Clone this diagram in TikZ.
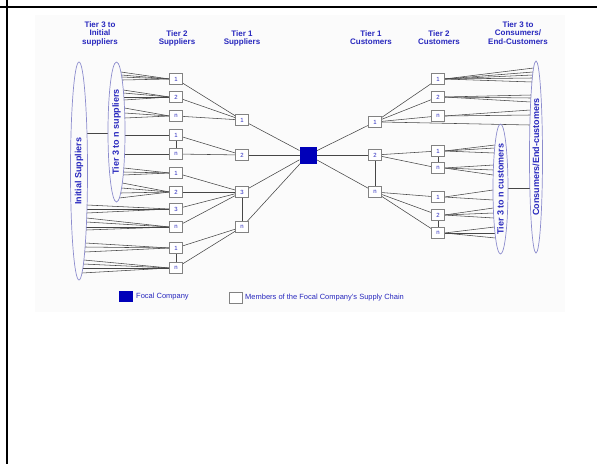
\documentclass[tikz,border=0pt]{standalone}
\usepackage{fontspec}
\setmainfont{Liberation Sans}
\usetikzlibrary{shapes.geometric}
\definecolor{txtblue}{RGB}{40,40,190}
\definecolor{focalblue}{RGB}{0,0,185}
\definecolor{ellcol}{RGB}{140,140,205}
\definecolor{lncol}{RGB}{70,70,70}
\definecolor{boxcol}{RGB}{130,130,130}
\pgfdeclarelayer{bg}
\pgfdeclarelayer{lines}
\pgfsetlayers{bg,lines,main}
\newcommand\fanR[6]{%
  \foreach \yy in {#6} {
    \pgfmathsetmacro\dd{(\yy-#2)/#4}
    \pgfmathsetmacro\xx{#1+#3*sqrt(1-(\dd)*(\dd))}
    \coordinate (fp) at (\xx,\yy);
    \draw[ln] (fp) -- (#5.west);
  }}
\newcommand\fanL[6]{%
  \foreach \yy in {#6} {
    \pgfmathsetmacro\dd{(\yy-#2)/#4}
    \pgfmathsetmacro\xx{#1-#3*sqrt(1-(\dd)*(\dd))}
    \coordinate (fp) at (\xx,\yy);
    \draw[ln] (#5.east) -- (fp);
  }}
\begin{document}
\begin{tikzpicture}[x=1pt,y=-1pt,
  mbox/.style={draw=boxcol,fill=white,line width=0.6pt,minimum width=13pt,minimum height=11pt,inner sep=0pt,outer sep=0pt,font=\fontsize{6}{6}\selectfont,text=txtblue},
  ln/.style={draw=lncol,line width=0.55pt},
  hdr/.style={font=\fontsize{8}{8.5}\selectfont\bfseries,text=txtblue,align=center,anchor=north,inner sep=0pt},
  ell/.style={ellipse,draw=ellcol,line width=0.7pt,inner sep=0pt,outer sep=0pt,rotate=90,font=\fontsize{9}{9}\selectfont\bfseries,text=txtblue},
  legtxt/.style={font=\fontsize{7.5}{8}\selectfont,text=txtblue,anchor=west,inner sep=0pt}]

\useasboundingbox (0,0) rectangle (597,464);
\begin{pgfonlayer}{bg}
\fill[black!1.5] (35,15) rectangle (565,312);
\end{pgfonlayer}
\draw[line width=2pt] (0,7) -- (597,7);
\draw[line width=2pt] (7,0) -- (7,464);

% headers
\node[hdr] (h1) at (100,21) {Tier 3 to\\Initial\\suppliers};
\node[hdr] (h2) at (177,30) {Tier 2\\Suppliers};
\node[hdr] (h3) at (242,30) {Tier 1\\Suppliers};
\node[hdr] (h4) at (371,30) {Tier 1\\Customers};
\node[hdr] (h5) at (439,30) {Tier 2\\Customers};
\node[hdr] (h6) at (518,21) {Tier 3 to\\Consumers/\\End-Customers};

% ellipses
\node[ell,minimum width=218pt,minimum height=17pt] (eI) at (79,171) {Initial Suppliers};
\node[ell,minimum width=140pt,minimum height=17pt] (eT) at (116.5,132) {Tier 3 to n suppliers};
\node[ell,minimum width=192pt,minimum height=13pt] (eC) at (536,157) {Consumers/End-customers};
\node[ell,minimum width=130pt,minimum height=15pt] (eU) at (500.5,189) {Tier 3 to n customers};

\coordinate (eIr) at (87,133);
\coordinate (eTl) at (108,133);
\coordinate (eUr) at (508,188);
\coordinate (eCl) at (529.8,188);

% focal
\node[fill=focalblue,minimum width=17pt,minimum height=17pt,inner sep=0pt,outer sep=0pt] (F) at (308,155) {};

% tier 2 suppliers
\node[mbox] (s1) at (176,79) {1};
\node[mbox] (s2) at (176,97) {2};
\node[mbox] (s3) at (176,116) {n};
\node[mbox] (s4) at (176,135) {1};
\node[mbox] (s5) at (176,154) {n};
\node[mbox] (s6) at (176,173) {1};
\node[mbox] (s7) at (176,192) {2};
\node[mbox] (s8) at (176,209) {3};
\node[mbox] (s9) at (176,227) {n};
\node[mbox] (s10) at (176,248) {1};
\node[mbox] (s11) at (176,268) {n};
% tier 1 suppliers
\node[mbox] (t1) at (242,120) {1};
\node[mbox] (t2) at (242,155) {2};
\node[mbox] (t3) at (242,192) {3};
\node[mbox] (t4) at (242,227) {n};
% tier 1 customers
\node[mbox] (c1) at (375,122) {1};
\node[mbox] (c2) at (375,155) {2};
\node[mbox] (c3) at (375,192) {n};
% tier 2 customers
\node[mbox] (d1) at (438,79) {1};
\node[mbox] (d2) at (438,97) {2};
\node[mbox] (d3) at (438,116) {n};
\node[mbox] (d4) at (438,151) {1};
\node[mbox] (d5) at (438,168) {n};
\node[mbox] (d6) at (438,197) {1};
\node[mbox] (d7) at (438,215) {2};
\node[mbox] (d8) at (438,233) {n};

\begin{pgfonlayer}{lines}
\draw[ln] (eIr) -- (eTl);
\draw[ln] (eUr) -- (eCl);
\foreach \a/\b in {s1/t1,s2/t1,s3/t1,s4/t2,s5/t2,s6/t3,s7/t3,s8/t3,s9/t3,s10/t4,s11/t4,
                   t1/F,t2/F,t3/F,t4/F,t3/t4,s4/s5,s10/s11,
                   F/c1,F/c2,F/c3,c2/c3,
                   c1/d1,c1/d2,c1/d3,c2/d4,c2/d5,c3/d6,c3/d7,c3/d8,d4/d5,d7/d8}
  \draw[ln] (\a) -- (\b);

% fans from supplier ellipses
\fanR{116.5}{132}{8.5}{70}{s1}{72,75,77,80}
\fanR{116.5}{132}{8.5}{70}{s2}{90,93,97,100}
\fanR{116.5}{132}{8.5}{70}{s3}{108,113,118}
\fanR{116.5}{132}{8.5}{70}{s4}{135}
\fanR{116.5}{132}{8.5}{70}{s5}{154}
\fanR{116.5}{132}{8.5}{70}{s6}{168,172,175}
\fanR{116.5}{132}{8.5}{70}{s7}{183,188,193,198}
\fanR{79}{171}{8.5}{109}{s8}{205,209,213}
\fanR{79}{171}{8.5}{109}{s9}{218,222,227,230}
\fanR{79}{171}{8.5}{109}{s10}{243,247,252}
\fanR{79}{171}{8.5}{109}{s11}{260,264,268,273}

% fans to customer ellipses
\fanL{536}{157}{6.5}{96}{d1}{68,72,75,78,82}
\fanL{536}{157}{6.5}{96}{d2}{95,98,102}
\fanL{536}{157}{6.5}{96}{d3}{110,115}
\fanL{536}{157}{6.5}{96}{c1}{125}
\fanL{500.5}{189}{7.5}{65}{d4}{145,148,153}
\fanL{500.5}{189}{7.5}{65}{d5}{165,170,175}
\fanL{500.5}{189}{7.5}{65}{d6}{190,200}
\fanL{500.5}{189}{7.5}{65}{d7}{208,213,218}
\fanL{500.5}{189}{7.5}{65}{d8}{227,233,238}
\end{pgfonlayer}

% legend
\node[fill=focalblue,minimum width=14pt,minimum height=11pt,inner sep=0pt] (lf) at (126,296.5) {};
\node[legtxt] (lft) at (136,296.5) {Focal Company};
\node[draw=boxcol,fill=white,line width=0.6pt,minimum width=13pt,minimum height=11pt,inner sep=0pt] (lm) at (235.5,297.5) {};
\node[legtxt] (lmt) at (245,297.5) {Members of the Focal Company's Supply Chain};
\end{tikzpicture}
\end{document}
